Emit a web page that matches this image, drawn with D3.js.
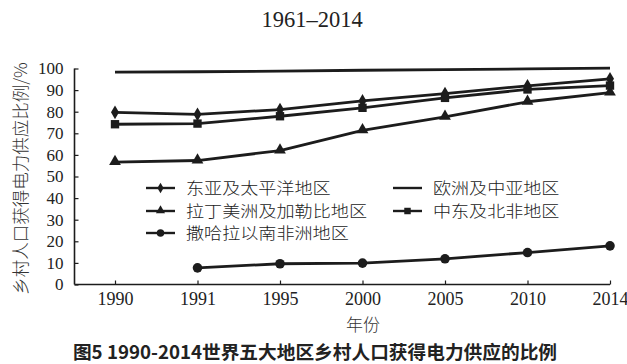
<!DOCTYPE html>
<html><head><meta charset="utf-8">
<script src="https://cdn.jsdelivr.net/npm/d3@7"></script>
<style>
body{margin:0;background:#fff;}
svg{display:block;}
</style></head>
<body>
<svg id="c" width="627" height="364"></svg>
<script>
const years = ["1990","1991","1995","2000","2005","2010","2014"];
const yTicks = [0,10,20,30,40,50,60,70,80,90,100];
const eastAsia = [79.7, 78.8, 81.0, 85.0, 88.4, 92.0, 95.2];
const europe = [98.3, 98.5, 98.8, 99.2, 99.5, 99.8, 100.2];
const latinAm = [56.7, 57.4, 62.0, 71.4, 77.6, 84.6, 88.8];
const middleEast = [74.2, 74.5, 77.9, 81.8, 86.4, 90.3, 92.1];
const subSahara = [null, 7.7, 9.6, 9.9, 11.9, 14.8, 17.9];
const seriesNames = ["东亚及太平洋地区","欧洲及中亚地区","拉丁美洲及加勒比地区","中东及北非地区","撒哈拉以南非洲地区"];
const titleText = "1961–2014";
const yLabel = "乡村人口获得电力供应比例/%";
const xLabel = "年份";
const caption = "图5 1990-2014世界五大地区乡村人口获得电力供应的比例";

const series = [
  {name: seriesNames[0], values: eastAsia, marker: "diamond"},
  {name: seriesNames[1], values: europe, marker: "none"},
  {name: seriesNames[2], values: latinAm, marker: "triangle"},
  {name: seriesNames[3], values: middleEast, marker: "square"},
  {name: seriesNames[4], values: subSahara, marker: "circle"}
];

const svg = d3.select("#c");
const ink = "#1c1c1c";
const serif = "'Liberation Serif','Times New Roman','DejaVu Serif',serif";
const cjk = "'Noto Sans CJK SC','Noto Sans',sans-serif";
const axisLeftX = 74.5, plotRight = 610, yTop = 68.5, yBottom = 284.5;

const x = d3.scalePoint().domain(years).range([115, 610]);
const y = d3.scaleLinear().domain([0,100]).range([yBottom, yTop]);

// title
svg.append("text").attr("x", 312).attr("y", 27).attr("text-anchor","middle")
  .style("font-family", serif).style("font-size","22.5px")
  .attr("fill","#222").text(titleText);

// y axis
const yAxis = d3.axisLeft(y).tickValues(yTicks).tickSize(-4).tickPadding(11);
const gy = svg.append("g").attr("transform",`translate(${axisLeftX},0)`).call(yAxis);
gy.attr("font-family", null).attr("font-size", null);
gy.select(".domain").attr("d", `M0,${yTop}H0V${yBottom}`).attr("stroke",ink).attr("stroke-width",1.6);
gy.selectAll(".tick line").attr("stroke",ink).attr("stroke-width",1.2);
gy.selectAll(".tick text").style("font-family", serif).style("font-size","17px").attr("fill","#222");

// x axis
const xAxis = d3.axisBottom(x).tickSize(-4).tickPadding(8);
const gx = svg.append("g").attr("transform",`translate(0,${yBottom})`).call(xAxis);
gx.attr("font-family", null).attr("font-size", null);
gx.select(".domain").attr("d", `M${axisLeftX},0H${plotRight}`).attr("stroke",ink).attr("stroke-width",1.6);
gx.selectAll(".tick line").attr("stroke",ink).attr("stroke-width",1.2);
gx.selectAll(".tick text").style("font-family", serif).style("font-size","18px").attr("fill","#222");

// axis labels
svg.append("text").attr("transform",`translate(27,${(yTop+yBottom)/2+2}) rotate(-90)`)
  .attr("text-anchor","middle").style("font-family", cjk)
  .style("font-size","17.5px").style("font-weight",300).attr("fill","#333").text(yLabel);
svg.append("text").attr("x", 363).attr("y", 331).attr("text-anchor","middle")
  .style("font-family", cjk).style("font-size","17px").style("font-weight",300)
  .attr("fill","#333").text(xLabel);

// caption
svg.append("text").attr("x", 315).attr("y", 358.5).attr("text-anchor","middle")
  .style("font-family", cjk).style("font-size","18.7px").style("font-weight",700)
  .attr("fill","#222").text(caption);

// markers
function drawMarker(g, type, cx, cy, k) {
  k = k || 1;
  if (type === "diamond") {
    g.append("path").attr("d", d3.symbol(d3.symbolDiamond, 55*k)()).attr("transform",`translate(${cx},${cy})`).attr("fill",ink);
  } else if (type === "triangle") {
    g.append("path").attr("d", d3.symbol(d3.symbolTriangle, 60*k)()).attr("transform",`translate(${cx},${cy-0.5})`).attr("fill",ink);
  } else if (type === "square") {
    g.append("path").attr("d", d3.symbol(d3.symbolSquare, 70*k)()).attr("transform",`translate(${cx},${cy})`).attr("fill",ink);
  } else if (type === "circle") {
    g.append("circle").attr("cx",cx).attr("cy",cy).attr("r",4.8*Math.sqrt(k)).attr("fill",ink);
  }
}

const line = d3.line().defined(d => d.v !== null).x(d => x(d.year)).y(d => y(d.v));
const plot = svg.append("g");
series.forEach(s => {
  const pts = years.map((yr,i) => ({year: yr, v: s.values[i]}));
  plot.append("path").datum(pts).attr("d", line).attr("fill","none")
    .attr("stroke",ink).attr("stroke-width",2.8).attr("stroke-linejoin","round");
  pts.filter(p => p.v !== null).forEach(p => drawMarker(plot, s.marker, x(p.year), y(p.v)));
});

// legend
const legendPos = [
  {i:0, lx:146, ty:188},
  {i:1, lx:393, ty:188},
  {i:2, lx:146, ty:211},
  {i:3, lx:393, ty:211},
  {i:4, lx:146, ty:233}
];
const lg = svg.append("g");
legendPos.forEach(p => {
  const s = series[p.i];
  lg.append("line").attr("x1",p.lx).attr("x2",p.lx+29).attr("y1",p.ty).attr("y2",p.ty)
    .attr("stroke",ink).attr("stroke-width",2.4);
  drawMarker(lg, s.marker, p.lx+14.5, p.ty, 0.6);
  lg.append("text").attr("x", p.lx+40).attr("y", p.ty).attr("dy","0.36em")
    .style("font-family", cjk).style("font-size","16px").style("font-weight",300)
    .attr("textLength", s.name.length*18.2 - 1).attr("lengthAdjust","spacingAndGlyphs")
    .attr("fill","#222").text(s.name);
});
</script>
</body></html>
